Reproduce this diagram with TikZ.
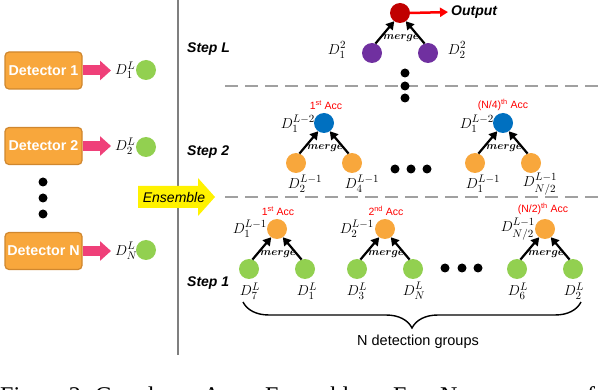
\documentclass[tikz,border=0pt]{standalone}
\usepackage{amsmath}
\usepackage{fontspec}
\setsansfont{Liberation Sans}
\newfontfamily\capfont{Liberation Serif}
\usetikzlibrary{arrows.meta,decorations.pathreplacing,calc}
\DeclareMathSizes{15}{15}{11}{8.5}
\DeclareMathSizes{14}{14}{10.5}{8}
\definecolor{cgreen}{HTML}{92D050}
\definecolor{corange}{HTML}{F8A73C}
\definecolor{cdetb}{HTML}{D0872E}
\definecolor{cblue}{HTML}{0070C0}
\definecolor{cred}{HTML}{C00000}
\definecolor{cpurple}{HTML}{7030A0}
\definecolor{cpink}{HTML}{EF4079}
\definecolor{cgrayl}{HTML}{7F7F7F}
\definecolor{cdash}{HTML}{A0A0A0}
\newcommand\mtree[5]{%
  \node[#4] (#1t) at (#2,#3) {};
  \node[#5] (#1l) at ($(#1t)+(-28,40)$) {};
  \node[#5] (#1r) at ($(#1t)+(28,40)$) {};
  \draw[mergearrow] (#1l.70) -- (#1t.235);
  \draw[mergearrow] (#1r.110) -- (#1t.305);
  \node[mrg] (#1m) at ($(#1t)+(1,25)$) {$merge$};
}
\begin{document}
\begin{tikzpicture}[x=1pt,y=-1pt,
  dotb/.style={circle,fill=black,minimum size=9pt,inner sep=0pt},
  ball/.style={circle,minimum size=20pt,inner sep=0pt,outer sep=0pt},
  gball/.style={ball,fill=cgreen},
  oball/.style={ball,fill=corange},
  bball/.style={ball,fill=cblue},
  pball/.style={ball,fill=cpurple},
  rball/.style={ball,fill=cred},
  lab/.style={inner sep=0pt,font=\fontsize{15}{17}\selectfont},
  llab/.style={inner sep=0pt,anchor=west,font=\fontsize{14}{16}\selectfont},
  acc/.style={inner sep=0pt,text=red,font=\sffamily\fontsize{10.5}{12}\selectfont},
  mrg/.style={inner sep=0pt,font=\fontsize{11}{12}\selectfont\boldmath},
  mergearrow/.style={line width=2.2pt,-{Triangle[length=8pt,width=9pt]}},
  det/.style={rounded corners=4pt,fill=corange,draw=cdetb,line width=1.2pt,minimum width=77pt,minimum height=37pt,inner sep=0pt,text=white,font=\sffamily\bfseries\fontsize{14.3}{16}\selectfont},
  pinkarrow/.style={cpink,line width=10pt,-{Triangle[length=11pt,width=19pt]},shorten >=4pt},
  steplab/.style={anchor=west,inner sep=0pt,font=\sffamily\bfseries\itshape\fontsize{14}{16}\selectfont},
  sepline/.style={cdash,line width=2.5pt,dash pattern=on 13pt off 7pt},
  capt/.style={anchor=base west,inner sep=0pt,font=\capfont\fontsize{24}{28}\selectfont},
]
\useasboundingbox (0,0) rectangle (600,390);
% left: detectors
\node[det] (det1) at (43.5,70.5) {Detector 1};
\node[det] (det2) at (43.5,146) {Detector 2};
\node[det] (detN) at (43.5,251) {Detector N};
\node[llab] (dl1) at (115,70.5) {$D_1^L$};
\node[llab] (dl2) at (115,146) {$D_2^L$};
\node[llab] (dlN) at (115,251) {$D_N^L$};
\node[gball] (g1) at (146,70) {};
\node[gball] (g2) at (146,147) {};
\node[gball] (gN) at (146,250) {};
\draw[pinkarrow] (det1.east) -- (dl1.west);
\draw[pinkarrow] (det2.east) -- (dl2.west);
\draw[pinkarrow] (detN.east) -- (dlN.west);
\node[dotb] (ld1) at (43,182) {};
\node[dotb] (ld2) at (43,198) {};
\node[dotb] (ld3) at (43,214) {};
% separator
\coordinate (vtop) at (178,0);
\coordinate (vbot) at (178,355);
\draw[cgrayl,line width=2.5pt] (vtop) -- (vbot);
% ensemble arrow
\fill[yellow] (138,186) -- (198,186) -- (198,178) -- (215,197) -- (198,216) -- (198,208) -- (138,208) -- cycle;
\node[inner sep=0pt,font=\sffamily\itshape\fontsize{14}{16}\selectfont] (ens) at (174,197) {Ensemble};
% dashed lines
\coordinate (dA1) at (225,86);
\coordinate (dA2) at (600,86);
\coordinate (dB1) at (225,197);
\coordinate (dB2) at (600,197);
\draw[sepline] (dA1) -- (dA2);
\draw[sepline] (dB1) -- (dB2);
% step labels
\node[steplab] (sL) at (187,49) {Step L};
\node[steplab] (s2) at (187,152) {Step 2};
\node[steplab] (s1) at (187,283) {Step 1};
% Step L
\mtree{tL}{400}{13}{rball}{pball}
\node[lab] (lL1) at (337,50) {$D_1^2$};
\node[lab] (lL2) at (457,50) {$D_2^2$};
\node[inner sep=0pt,anchor=west,font=\sffamily\bfseries\itshape\fontsize{14}{16}\selectfont] (out) at (451,12) {Output};
\draw[red,line width=2.5pt,-{Triangle[length=8pt,width=9pt]},shorten >=3pt] (tLt.east) -- (out.west);
\node[dotb] (vd1) at (405,73) {};
\node[dotb] (vd2) at (405,86) {};
\node[dotb] (vd3) at (405,98) {};
% Step 2
\mtree{tA}{324}{123}{bball}{oball}
\node[acc] (aA) at (326,105) {1\textsuperscript{st} Acc};
\node[lab,anchor=east] (lA) at (315,124) {$D_1^{L-2}$};
\node[lab] (lAl) at (305,184) {$D_2^{L-1}$};
\node[lab] (lAr) at (362,184) {$D_4^{L-1}$};
\mtree{tB}{503}{123}{bball}{oball}
\node[acc] (aB) at (503,105) {(N/4)\textsuperscript{th} Acc};
\node[lab,anchor=east] (lB) at (494,124) {$D_1^{L-2}$};
\node[lab] (lBl) at (483,184) {$D_1^{L-1}$};
\node[lab] (lBr) at (540,184) {$D_{N/2}^{L-1}$};
\node[dotb] (hd1) at (395,169) {};
\node[dotb] (hd2) at (411,169) {};
\node[dotb] (hd3) at (427,169) {};
% Step 1
\mtree{tC}{277}{229}{oball}{gball}
\node[acc] (aC) at (278,211) {1\textsuperscript{st} Acc};
\node[lab,anchor=east] (lC) at (267,229) {$D_1^{L-1}$};
\node[lab] (lCl) at (250,291) {$D_7^L$};
\node[lab] (lCr) at (307,291) {$D_1^L$};
\mtree{tD}{385}{229}{oball}{gball}
\node[acc] (aD) at (386,211) {2\textsuperscript{nd} Acc};
\node[lab,anchor=east] (lD) at (374,229) {$D_2^{L-1}$};
\node[lab] (lDl) at (357,291) {$D_3^L$};
\node[lab] (lDr) at (414,291) {$D_N^L$};
\mtree{tE}{545}{229}{oball}{gball}
\node[acc] (aE) at (543,209) {(N/2)\textsuperscript{th} Acc};
\node[lab,anchor=east] (lE) at (535,229) {$D_{N/2}^{L-1}$};
\node[lab] (lEl) at (518,291) {$D_6^L$};
\node[lab] (lEr) at (574,291) {$D_2^L$};
\node[dotb] (sd1) at (445,268) {};
\node[dotb] (sd2) at (462,268) {};
\node[dotb] (sd3) at (478,268) {};
% brace
\coordinate (br1) at (243,302);
\coordinate (br2) at (581,302);
\draw[line width=1.4pt,decorate,decoration={brace,mirror,amplitude=26pt}] (br1) -- (br2);
\node[inner sep=0pt,font=\sffamily\fontsize{14.5}{16}\selectfont] (ndg) at (418,342) {N detection groups};
% caption (cut off at the lower edge)
\node[capt] (c1) at (0,403) {Figure 2:};
\node[capt] (c2) at (95,403) {Greedy};
\node[capt] (c3) at (203,403) {Acc};
\node[capt] (c4) at (265,403) {Ensemble.};
\node[capt] (c5) at (393,403) {For};
\node[capt] (c6) at (440,403) {N};
\node[capt] (c7) at (575,403) {of};
\end{tikzpicture}
\end{document}
